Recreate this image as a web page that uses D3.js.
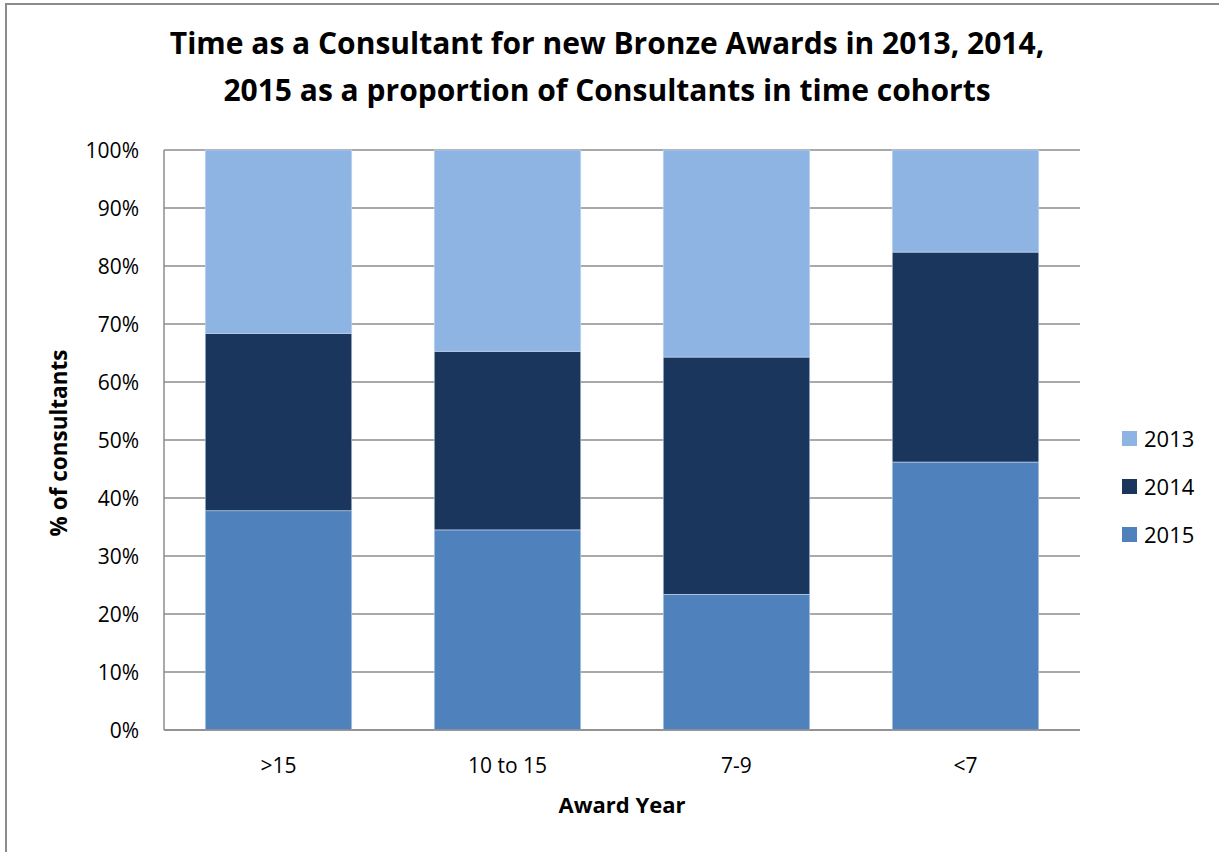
<!DOCTYPE html>
<html><head><meta charset="utf-8">
<script src="https://cdn.jsdelivr.net/npm/d3@7"></script>
<style>body{margin:0;background:#fff;} svg{display:block;} text{font-family:"Open Sans","Liberation Sans",sans-serif;}</style>
</head><body>
<svg id="c" width="1219" height="852"></svg>
<script>
const categories = [">15", "10 to 15", "7-9", "<7"];
const seriesNames = ["2015", "2014", "2013"];
const values2015 = [37.8, 34.5, 23.4, 46.2];
const values2014 = [30.6, 30.8, 40.9, 36.2];
const values2013 = [31.6, 34.7, 35.7, 17.6];
const yTicks = [0,10,20,30,40,50,60,70,80,90,100];
const colors = {"2015":"#4f81bd","2014":"#1a365d","2013":"#8eb4e3"};
const legendOrder = ["2013","2014","2015"];

const svg = d3.select("#c");
// outer frame
svg.append("rect").attr("x",6).attr("y",4).attr("width",1300).attr("height",1000)
  .attr("fill","#fff").attr("stroke","#8c8c8c").attr("stroke-width",2);

const pLeft=164, pRight=1080, pTop=150, pBottom=730;
const x = d3.scaleBand().domain(categories).range([pLeft,pRight]).paddingInner(0.36).paddingOuter(0.18);
const y = d3.scaleLinear().domain([0,100]).range([pBottom,pTop]);

// gridlines
svg.append("g").selectAll("line").data(yTicks).join("line")
  .attr("x1",pLeft).attr("x2",pRight).attr("y1",d=>y(d)).attr("y2",d=>y(d))
  .attr("stroke","#8c8c8c").attr("stroke-width",1.5);

const rows = categories.map((c,i)=>({cat:c,"2015":values2015[i],"2014":values2014[i],"2013":values2013[i]}));
const stack = d3.stack().keys(seriesNames)(rows);
svg.append("g").selectAll("g").data(stack).join("g").attr("fill",d=>colors[d.key])
  .selectAll("rect").data(d=>d).join("rect")
  .attr("x",d=>x(d.data.cat)).attr("width",x.bandwidth())
  .attr("y",d=>y(d[1])).attr("height",d=>y(d[0])-y(d[1]))
  .attr("stroke","#c9d9ee").attr("stroke-width",0.6);

// axes lines
svg.append("line").attr("x1",pLeft).attr("x2",pLeft).attr("y1",pTop).attr("y2",pBottom).attr("stroke","#8c8c8c").attr("stroke-width",1.5);
svg.append("line").attr("x1",pLeft).attr("x2",pRight).attr("y1",pBottom).attr("y2",pBottom).attr("stroke","#8c8c8c").attr("stroke-width",1.5);

// y ticks labels
svg.append("g").selectAll("text").data(yTicks).join("text")
  .attr("x",139).attr("y",d=>y(d)).attr("dy","0.36em").attr("text-anchor","end")
  .attr("font-size",21).attr("fill","#000").text(d=>d+"%");

// x labels
svg.append("g").selectAll("text").data(categories).join("text")
  .attr("x",d=>x(d)+x.bandwidth()/2).attr("y",773).attr("text-anchor","middle")
  .attr("font-size",21).attr("fill","#000").text(d=>d);

// axis titles
svg.append("text").attr("x",622).attr("y",813).attr("text-anchor","middle")
  .attr("font-size",22).attr("font-weight","bold").text("Award Year");
svg.append("text").attr("transform","translate(67,443) rotate(-90)").attr("text-anchor","middle")
  .attr("font-size",22.5).attr("font-weight","bold").text("% of consultants");

// title
const title = svg.append("text").attr("text-anchor","middle").attr("font-size",30).attr("font-weight","bold");
title.append("tspan").attr("x",607).attr("y",54).text("Time as a Consultant for new Bronze Awards in 2013, 2014,");
title.append("tspan").attr("x",607).attr("y",101).text("2015 as a proportion of Consultants in time cohorts");

// legend
const lg = svg.append("g").selectAll("g").data(legendOrder).join("g")
  .attr("transform",(d,i)=>`translate(1122,${431+i*48})`);
lg.append("rect").attr("width",15).attr("height",15).attr("fill",d=>colors[d]);
lg.append("text").attr("x",22).attr("y",16).attr("font-size",22).text(d=>d);
</script>
</body></html>
